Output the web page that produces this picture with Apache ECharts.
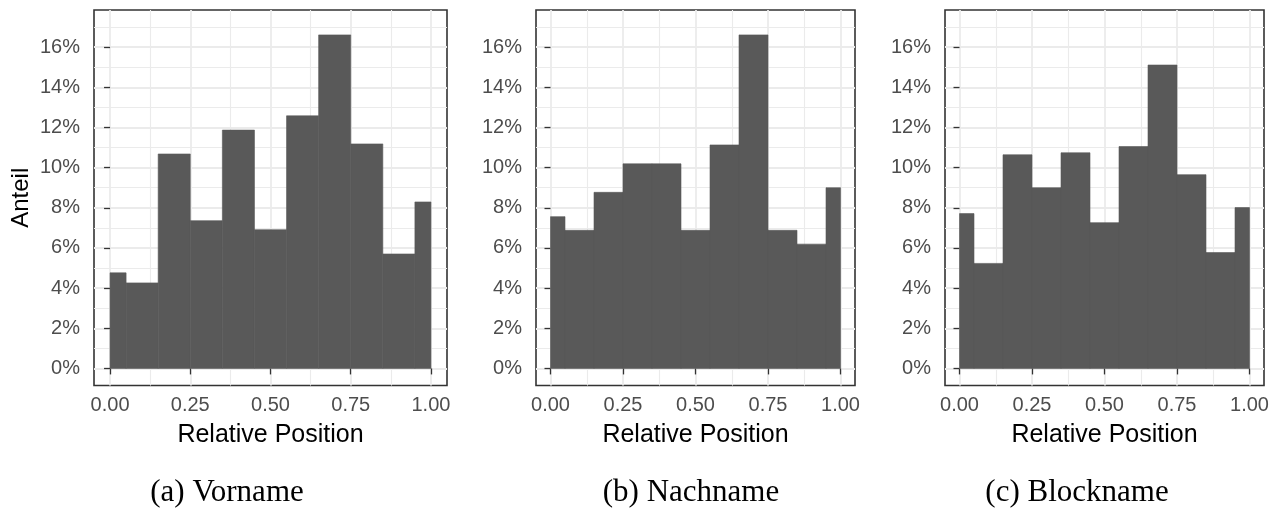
<!DOCTYPE html>
<html>
<head>
<meta charset="utf-8">
<script src="https://cdn.jsdelivr.net/npm/echarts@6/dist/echarts.min.js"></script>
<style>
html,body{margin:0;padding:0;background:#fff;}
#chart{width:1279px;height:511px;}
</style>
</head>
<body>
<div id="chart"></div>
<script>
// ---- data ----
const binStart = [0.00, 0.05, 0.15, 0.25, 0.35, 0.45, 0.55, 0.65, 0.75, 0.85, 0.95];
const binEnd   = [0.05, 0.15, 0.25, 0.35, 0.45, 0.55, 0.65, 0.75, 0.85, 0.95, 1.00];
const vorname   = [4.76, 4.26, 10.68, 7.36, 11.87, 6.91, 12.58, 16.61, 11.18, 5.70, 8.29];
const nachname  = [7.56, 6.88, 8.77, 10.19, 10.19, 6.88, 11.13, 16.61, 6.88, 6.19, 9.00];
const blockname = [7.71, 5.23, 10.64, 9.00, 10.74, 7.26, 11.05, 15.11, 9.65, 5.77, 8.01];
const captions = ['(a) Vorname', '(b) Nachname', '(c) Blockname'];
const xTicks = [0, 0.25, 0.5, 0.75, 1];
const xMinorTicks = [0.125, 0.375, 0.625, 0.875];
const yTicks = [0, 2, 4, 6, 8, 10, 12, 14, 16];
const yMinorTicks = [1, 3, 5, 7, 9, 11, 13, 15, 17];
const xTitle = 'Relative Position';
const yTitle = 'Anteil';

const panels = [
  { values: vorname,   left: 94,  width: 353, cap: 227 },
  { values: nachname,  left: 536, width: 319, cap: 691 },
  { values: blockname, left: 945, width: 319, cap: 1077 }
];

const grids = [], xAxes = [], yAxes = [], series = [], graphics = [];
panels.forEach((p, i) => {
  grids.push({ left: p.left, top: 10, width: p.width, height: 375.5, show: true,
    borderColor: '#333333', borderWidth: 1.6, backgroundColor: 'transparent' });
  // major x axis
  xAxes.push({
    gridIndex: i, type: 'value', min: -0.05, max: 1.05, position: 'bottom',
    name: xTitle, nameLocation: 'middle', nameGap: 37,
    nameTextStyle: { fontFamily: 'Liberation Sans', fontSize: 25, color: '#000' },
    axisLine: { show: false },
    axisTick: { show: true, length: 6, customValues: xTicks, lineStyle: { color: '#333333', width: 1.3 } },
    axisLabel: { show: true, customValues: xTicks, margin: 10, fontFamily: 'Liberation Sans', fontSize: 20, color: '#4d4d4d',
      formatter: v => v.toFixed(2) },
    splitLine: { show: true, lineStyle: { color: '#ebebeb', width: 1.8 } }
  });
  // minor x axis (grid only)
  xAxes.push({
    gridIndex: i, type: 'value', min: -0.05, max: 1.05, position: 'bottom',
    axisLine: { show: false }, axisLabel: { show: false },
    axisTick: { show: false, customValues: xMinorTicks },
    splitLine: { show: true, lineStyle: { color: '#ebebeb', width: 1.1 } }
  });
  yAxes.push({
    gridIndex: i, type: 'value', min: -0.85, max: 17.85, position: 'left',
    name: i === 0 ? yTitle : '', nameLocation: 'middle', nameGap: 61, nameRotate: 90,
    nameTextStyle: { fontFamily: 'Liberation Sans', fontSize: 24, color: '#000' },
    axisLine: { show: false },
    axisTick: { show: true, length: 6, customValues: yTicks, lineStyle: { color: '#333333', width: 1.3 } },
    axisLabel: { show: true, customValues: yTicks, margin: 14, fontFamily: 'Liberation Sans', fontSize: 20, color: '#4d4d4d',
      formatter: v => Math.round(v) + '%' },
    splitLine: { show: true, lineStyle: { color: '#ebebeb', width: 1.8 } }
  });
  yAxes.push({
    gridIndex: i, type: 'value', min: -0.85, max: 17.85, position: 'left',
    axisLine: { show: false }, axisLabel: { show: false },
    axisTick: { show: false, customValues: yMinorTicks },
    splitLine: { show: true, lineStyle: { color: '#ebebeb', width: 1.1 } }
  });
  series.push({
    type: 'custom', xAxisIndex: 2 * i, yAxisIndex: 2 * i,
    data: p.values.map((v, k) => [binStart[k], binEnd[k], v]),
    encode: { x: [0, 1], y: 2 },
    renderItem: (params, api) => {
      const a = api.coord([api.value(0), api.value(2)]);
      const b = api.coord([api.value(1), 0]);
      return { type: 'rect', shape: { x: a[0], y: a[1], width: b[0] - a[0], height: b[1] - a[1] },
        style: { fill: '#595959', stroke: '#595959', lineWidth: 0.6 } };
    },
    silent: true, z: 5
  });
  graphics.push({ type: 'text', x: p.cap, y: 493,
    style: { text: captions[i], fontFamily: 'Liberation Serif', fontSize: 31, fill: '#000',
      textAlign: 'center', textVerticalAlign: 'middle' } });
});

const chart = echarts.init(document.getElementById('chart'), null, { renderer: 'canvas' });
chart.setOption({
  animation: false,
  backgroundColor: '#ffffff',
  grid: grids, xAxis: xAxes, yAxis: yAxes, series: series, graphic: graphics
});
</script>
</body>
</html>
